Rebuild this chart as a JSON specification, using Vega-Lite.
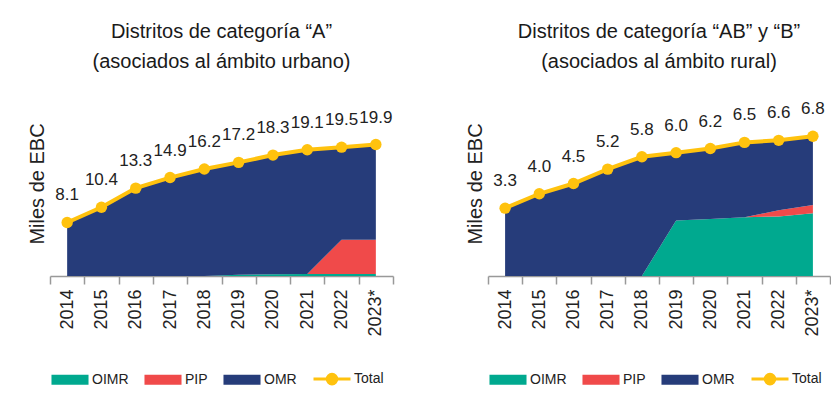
{
  "$schema": "https://vega.github.io/schema/vega-lite/v6.json",
  "background": "white",
  "padding": {"left": 27, "top": 22, "right": 0, "bottom": 5},
  "config": {
    "view": {"stroke": null},
    "font": "Liberation Sans",
    "axisX": {"domainColor": "#999999", "domainWidth": 1.5, "tickColor": "#999999", "tickWidth": 1.5, "tickSize": 8, "tickBand": "extent", "labelAngle": -90, "labelAlign": "right", "labelBaseline": "middle", "labelFont": "Liberation Sans", "labelFontSize": 18, "labelColor": "#222222", "labelPadding": 5, "grid": false, "title": null},
    "axisY": {"labels": false, "ticks": false, "domain": false, "grid": false, "minExtent": 0, "titleFont": "Liberation Sans", "titleFontSize": 20, "titleFontWeight": "normal", "titleColor": "#222222", "titlePadding": 3},
    "title": {"fontSize": 20, "fontWeight": "normal", "lineHeight": 30, "font": "Liberation Sans", "color": "#1a1a1a", "offset": 19},
    "legend": {"title": null, "orient": "bottom", "direction": "horizontal", "offset": 22, "symbolSize": 1369, "symbolStrokeWidth": 3, "symbolOpacity": 1, "labelFont": "Liberation Sans", "labelFontSize": 14, "labelColor": "#222222", "labelOffset": 2, "columnPadding": 10, "symbolLimit": 0}
  },
  "datasets": {
    "seriesA": [
      {"year": "2014", "series": "OIMR", "value": 0, "ord": 1}, {"year": "2014", "series": "PIP", "value": 0, "ord": 2}, {"year": "2014", "series": "OMR", "value": 8.1, "ord": 3},
      {"year": "2015", "series": "OIMR", "value": 0, "ord": 1}, {"year": "2015", "series": "PIP", "value": 0, "ord": 2}, {"year": "2015", "series": "OMR", "value": 10.4, "ord": 3},
      {"year": "2016", "series": "OIMR", "value": 0, "ord": 1}, {"year": "2016", "series": "PIP", "value": 0, "ord": 2}, {"year": "2016", "series": "OMR", "value": 13.3, "ord": 3},
      {"year": "2017", "series": "OIMR", "value": 0, "ord": 1}, {"year": "2017", "series": "PIP", "value": 0, "ord": 2}, {"year": "2017", "series": "OMR", "value": 14.9, "ord": 3},
      {"year": "2018", "series": "OIMR", "value": 0, "ord": 1}, {"year": "2018", "series": "PIP", "value": 0, "ord": 2}, {"year": "2018", "series": "OMR", "value": 16.2, "ord": 3},
      {"year": "2019", "series": "OIMR", "value": 0.2, "ord": 1}, {"year": "2019", "series": "PIP", "value": 0, "ord": 2}, {"year": "2019", "series": "OMR", "value": 17.0, "ord": 3},
      {"year": "2020", "series": "OIMR", "value": 0.25, "ord": 1}, {"year": "2020", "series": "PIP", "value": 0, "ord": 2}, {"year": "2020", "series": "OMR", "value": 18.05, "ord": 3},
      {"year": "2021", "series": "OIMR", "value": 0.3, "ord": 1}, {"year": "2021", "series": "PIP", "value": 0, "ord": 2}, {"year": "2021", "series": "OMR", "value": 18.8, "ord": 3},
      {"year": "2022", "series": "OIMR", "value": 0.3, "ord": 1}, {"year": "2022", "series": "PIP", "value": 5.2, "ord": 2}, {"year": "2022", "series": "OMR", "value": 14.0, "ord": 3},
      {"year": "2023*", "series": "OIMR", "value": 0.3, "ord": 1}, {"year": "2023*", "series": "PIP", "value": 5.2, "ord": 2}, {"year": "2023*", "series": "OMR", "value": 14.4, "ord": 3}
    ],
    "seriesB": [
      {"year": "2014", "series": "OIMR", "value": 0, "ord": 1}, {"year": "2014", "series": "PIP", "value": 0, "ord": 2}, {"year": "2014", "series": "OMR", "value": 3.3, "ord": 3},
      {"year": "2015", "series": "OIMR", "value": 0, "ord": 1}, {"year": "2015", "series": "PIP", "value": 0, "ord": 2}, {"year": "2015", "series": "OMR", "value": 4.0, "ord": 3},
      {"year": "2016", "series": "OIMR", "value": 0, "ord": 1}, {"year": "2016", "series": "PIP", "value": 0, "ord": 2}, {"year": "2016", "series": "OMR", "value": 4.5, "ord": 3},
      {"year": "2017", "series": "OIMR", "value": 0, "ord": 1}, {"year": "2017", "series": "PIP", "value": 0, "ord": 2}, {"year": "2017", "series": "OMR", "value": 5.2, "ord": 3},
      {"year": "2018", "series": "OIMR", "value": 0, "ord": 1}, {"year": "2018", "series": "PIP", "value": 0, "ord": 2}, {"year": "2018", "series": "OMR", "value": 5.8, "ord": 3},
      {"year": "2019", "series": "OIMR", "value": 2.7, "ord": 1}, {"year": "2019", "series": "PIP", "value": 0, "ord": 2}, {"year": "2019", "series": "OMR", "value": 3.3, "ord": 3},
      {"year": "2020", "series": "OIMR", "value": 2.77, "ord": 1}, {"year": "2020", "series": "PIP", "value": 0, "ord": 2}, {"year": "2020", "series": "OMR", "value": 3.43, "ord": 3},
      {"year": "2021", "series": "OIMR", "value": 2.86, "ord": 1}, {"year": "2021", "series": "PIP", "value": 0, "ord": 2}, {"year": "2021", "series": "OMR", "value": 3.64, "ord": 3},
      {"year": "2022", "series": "OIMR", "value": 2.9, "ord": 1}, {"year": "2022", "series": "PIP", "value": 0.3, "ord": 2}, {"year": "2022", "series": "OMR", "value": 3.4, "ord": 3},
      {"year": "2023*", "series": "OIMR", "value": 3.05, "ord": 1}, {"year": "2023*", "series": "PIP", "value": 0.4, "ord": 2}, {"year": "2023*", "series": "OMR", "value": 3.35, "ord": 3}
    ],
    "totalsA": [
      {"year": "2014", "total": 8.1}, {"year": "2015", "total": 10.4}, {"year": "2016", "total": 13.3}, {"year": "2017", "total": 14.9}, {"year": "2018", "total": 16.2},
      {"year": "2019", "total": 17.2}, {"year": "2020", "total": 18.3}, {"year": "2021", "total": 19.1}, {"year": "2022", "total": 19.5}, {"year": "2023*", "total": 19.9}
    ],
    "totalsB": [
      {"year": "2014", "total": 3.3}, {"year": "2015", "total": 4.0}, {"year": "2016", "total": 4.5}, {"year": "2017", "total": 5.2}, {"year": "2018", "total": 5.8},
      {"year": "2019", "total": 6.0}, {"year": "2020", "total": 6.2}, {"year": "2021", "total": 6.5}, {"year": "2022", "total": 6.6}, {"year": "2023*", "total": 6.8}
    ]
  },
  "spacing": 71,
  "resolve": {
    "scale": {"x": "independent", "y": "independent", "color": "independent", "fill": "independent", "stroke": "independent", "shape": "independent"},
    "legend": {"color": "independent", "fill": "independent", "stroke": "independent", "shape": "independent"}
  },
  "hconcat": [
    {
      "width": 343, "height": 185,
      "title": {"text": ["Distritos de categoría “A”", "(asociados al ámbito urbano)"]},
      "layer": [
        {
          "data": {"name": "seriesA"},
          "mark": {"type": "area"},
          "encoding": {
            "x": {"field": "year", "type": "ordinal", "bandPosition": 0.5, "scale": {"type": "band", "paddingInner": 0, "paddingOuter": 0}, "title": null},
            "y": {"field": "value", "type": "quantitative", "stack": "zero", "scale": {"domain": [0, 27.3]}, "title": "Miles de EBC"},
            "color": {"field": "series", "type": "nominal", "scale": {"domain": ["OIMR", "PIP", "OMR"], "range": ["#00A98F", "#F04A4A", "#263C7A"]}, "legend": null},
            "order": {"field": "ord", "type": "quantitative"}
          }
        },
        {
          "data": {"name": "totalsA"},
          "mark": {"type": "line", "color": "#FFC20E", "strokeWidth": 4},
          "encoding": {
            "x": {"field": "year", "type": "ordinal", "bandPosition": 0.5},
            "y": {"field": "total", "type": "quantitative"}
          }
        },
        {
          "data": {"name": "totalsA"},
          "mark": {"type": "point", "filled": true, "color": "#FFC20E", "size": 130, "opacity": 1},
          "encoding": {
            "x": {"field": "year", "type": "ordinal", "bandPosition": 0.5},
            "y": {"field": "total", "type": "quantitative"}
          }
        },
        {
          "data": {"name": "totalsA"},
          "mark": {"type": "text", "dy": -27, "fontSize": 17, "color": "#222222", "font": "Liberation Sans"},
          "encoding": {
            "x": {"field": "year", "type": "ordinal", "bandPosition": 0.5},
            "y": {"field": "total", "type": "quantitative"},
            "text": {"field": "total", "type": "quantitative", "format": ".1f"}
          }
        },
        {
          "data": {"name": "seriesA"},
          "transform": [{"filter": "datum.value < -1"}],
          "mark": {"type": "point", "filled": true, "strokeWidth": 3},
          "encoding": {
            "x": {"field": "year", "type": "ordinal", "bandPosition": 0.5},
            "y": {"field": "value", "type": "quantitative", "stack": null},
            "fill": {"field": "series", "type": "nominal", "scale": {"domain": ["OIMR", "PIP", "OMR", "Total"], "range": ["#00A98F", "#F04A4A", "#263C7A", "#FFC20E"]}},
            "stroke": {"field": "series", "type": "nominal", "scale": {"domain": ["OIMR", "PIP", "OMR", "Total"], "range": ["#00A98F", "#F04A4A", "#263C7A", "#FFC20E"]}},
            "shape": {"field": "series", "type": "nominal", "scale": {"domain": ["OIMR", "PIP", "OMR", "Total"], "range": ["M-0.92,-0.19H0.92V0.19H-0.92Z", "M-0.92,-0.19H0.92V0.19H-0.92Z", "M-0.92,-0.19H0.92V0.19H-0.92Z", "M-1,0H1M0.26,0A0.26,0.26,0,1,1,-0.26,0A0.26,0.26,0,1,1,0.26,0Z"]}}
          }
        }
      ]
    },
    {
      "width": 342, "height": 185,
      "title": {"text": ["Distritos de categoría “AB” y “B”", "(asociados al ámbito rural)"]},
      "layer": [
        {
          "data": {"name": "seriesB"},
          "mark": {"type": "area"},
          "encoding": {
            "x": {"field": "year", "type": "ordinal", "bandPosition": 0.5, "scale": {"type": "band", "paddingInner": 0, "paddingOuter": 0}, "title": null},
            "y": {"field": "value", "type": "quantitative", "stack": "zero", "scale": {"domain": [0, 8.7]}, "title": "Miles de EBC"},
            "color": {"field": "series", "type": "nominal", "scale": {"domain": ["OIMR", "PIP", "OMR"], "range": ["#00A98F", "#F04A4A", "#263C7A"]}, "legend": null},
            "order": {"field": "ord", "type": "quantitative"}
          }
        },
        {
          "data": {"name": "totalsB"},
          "mark": {"type": "line", "color": "#FFC20E", "strokeWidth": 4},
          "encoding": {
            "x": {"field": "year", "type": "ordinal", "bandPosition": 0.5},
            "y": {"field": "total", "type": "quantitative"}
          }
        },
        {
          "data": {"name": "totalsB"},
          "mark": {"type": "point", "filled": true, "color": "#FFC20E", "size": 130, "opacity": 1},
          "encoding": {
            "x": {"field": "year", "type": "ordinal", "bandPosition": 0.5},
            "y": {"field": "total", "type": "quantitative"}
          }
        },
        {
          "data": {"name": "totalsB"},
          "mark": {"type": "text", "dy": -27, "fontSize": 17, "color": "#222222", "font": "Liberation Sans"},
          "encoding": {
            "x": {"field": "year", "type": "ordinal", "bandPosition": 0.5},
            "y": {"field": "total", "type": "quantitative"},
            "text": {"field": "total", "type": "quantitative", "format": ".1f"}
          }
        },
        {
          "data": {"name": "seriesB"},
          "transform": [{"filter": "datum.value < -1"}],
          "mark": {"type": "point", "filled": true, "strokeWidth": 3},
          "encoding": {
            "x": {"field": "year", "type": "ordinal", "bandPosition": 0.5},
            "y": {"field": "value", "type": "quantitative", "stack": null},
            "fill": {"field": "series", "type": "nominal", "scale": {"domain": ["OIMR", "PIP", "OMR", "Total"], "range": ["#00A98F", "#F04A4A", "#263C7A", "#FFC20E"]}},
            "stroke": {"field": "series", "type": "nominal", "scale": {"domain": ["OIMR", "PIP", "OMR", "Total"], "range": ["#00A98F", "#F04A4A", "#263C7A", "#FFC20E"]}},
            "shape": {"field": "series", "type": "nominal", "scale": {"domain": ["OIMR", "PIP", "OMR", "Total"], "range": ["M-0.92,-0.19H0.92V0.19H-0.92Z", "M-0.92,-0.19H0.92V0.19H-0.92Z", "M-0.92,-0.19H0.92V0.19H-0.92Z", "M-1,0H1M0.26,0A0.26,0.26,0,1,1,-0.26,0A0.26,0.26,0,1,1,0.26,0Z"]}}
          }
        }
      ]
    }
  ]
}
